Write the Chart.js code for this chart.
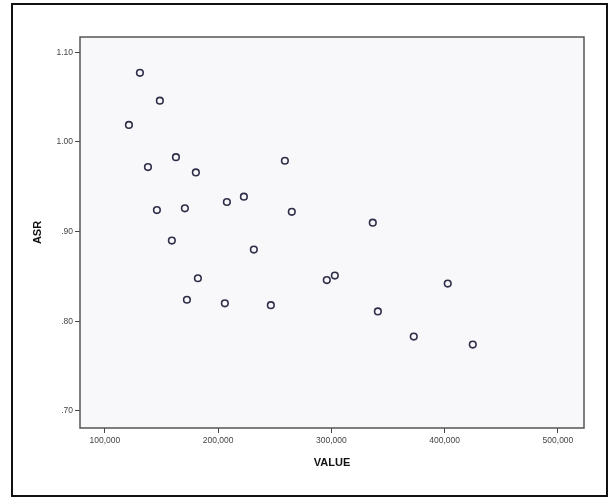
<!DOCTYPE html>
<html>
<head>
<meta charset="utf-8">
<script src="https://cdn.jsdelivr.net/npm/chart.js@4/dist/chart.umd.min.js"></script>
<style>
  html, body { margin: 0; padding: 0; background: #fff; }
  #wrap { width: 616px; height: 499px; }
</style>
</head>
<body>
<div id="wrap"><canvas id="asrChart" width="616" height="499"></canvas></div>
<script>
// data
const valueX = [121200, 130900, 148500, 138000, 145900, 159100, 162700, 170600, 172400, 180300,
                182100, 207700, 222700, 205900, 231500, 258900, 265000, 246500, 295900, 303000,
                336500, 341000, 372700, 402700, 424800];
const asrY = [1.019, 1.077, 1.046, 0.972, 0.924, 0.890, 0.983, 0.926, 0.824, 0.966,
              0.848, 0.933, 0.939, 0.820, 0.880, 0.979, 0.922, 0.818, 0.846, 0.851,
              0.910, 0.811, 0.783, 0.842, 0.774];
const xTicks = [100000, 200000, 300000, 400000, 500000];
const yTicks = [0.70, 0.80, 0.90, 1.00, 1.10];

const points = valueX.map((x, i) => ({ x: x, y: asrY[i] }));

// frame + plot background
const framePlugin = {
    id: "frame",
    beforeDraw(chart) {
        const { ctx, chartArea: a } = chart;
        ctx.save();
        ctx.fillStyle = "#f8f8fb";
        ctx.fillRect(a.left, a.top, a.right - a.left, a.bottom - a.top);
        ctx.restore();
    },
    afterDraw(chart) {
        const { ctx, chartArea: a } = chart;
        ctx.save();
        ctx.strokeStyle = "#555";
        ctx.lineWidth = 1.5;
        ctx.strokeRect(a.left, a.top, a.right - a.left, a.bottom - a.top);
        ctx.strokeStyle = "#111";
        ctx.lineWidth = 2;
        ctx.strokeRect(12, 4, 595, 492);
        ctx.restore();
    }
};

const tickFont = { family: "Arial, 'Liberation Sans', sans-serif", size: 8.5 };
const titleFont = { family: "Arial, 'Liberation Sans', sans-serif", size: 11, weight: "bold" };

new Chart(document.getElementById("asrChart"), {
    type: "scatter",
    data: {
        datasets: [{
            label: "ASR",
            data: points,
            pointRadius: 3.3,
            pointBorderWidth: 1.6,
            pointBorderColor: "#2e2e48",
            pointBackgroundColor: "rgba(0,0,0,0)"
        }]
    },
    options: {
        responsive: false,
        animation: false,
        layout: { padding: { top: 37, right: 32, left: 0, bottom: 0 } },
        plugins: { legend: { display: false }, tooltip: { enabled: false } },
        scales: {
            x: {
                type: "linear",
                min: 78000,
                max: 523000,
                afterFit(scale) { scale.height = 71; },
                afterBuildTicks(scale) { scale.ticks = xTicks.map(v => ({ value: v })); },
                grid: { drawOnChartArea: false, tickLength: 5, tickColor: "#444", drawBorder: false },
                border: { display: false },
                ticks: {
                    color: "#444",
                    font: tickFont,
                    padding: 3,
                    maxRotation: 0,
                    callback: v => v.toLocaleString("en-US")
                },
                title: { display: true, text: "VALUE", color: "#111", font: titleFont, padding: { top: 0, bottom: 29 } }
            },
            y: {
                type: "linear",
                min: 0.681,
                max: 1.117,
                afterFit(scale) { scale.width = 80; },
                afterBuildTicks(scale) { scale.ticks = yTicks.map(v => ({ value: v })); },
                grid: { drawOnChartArea: false, tickLength: 5, tickColor: "#444" },
                border: { display: false },
                ticks: {
                    color: "#444",
                    font: tickFont,
                    padding: 2,
                    callback: v => v >= 1 ? v.toFixed(2) : v.toFixed(2).slice(1)
                },
                title: { display: true, text: "ASR", color: "#111", font: titleFont, padding: { top: 31, bottom: 0 } }
            }
        }
    },
    plugins: [framePlugin]
});
</script>
</body>
</html>
